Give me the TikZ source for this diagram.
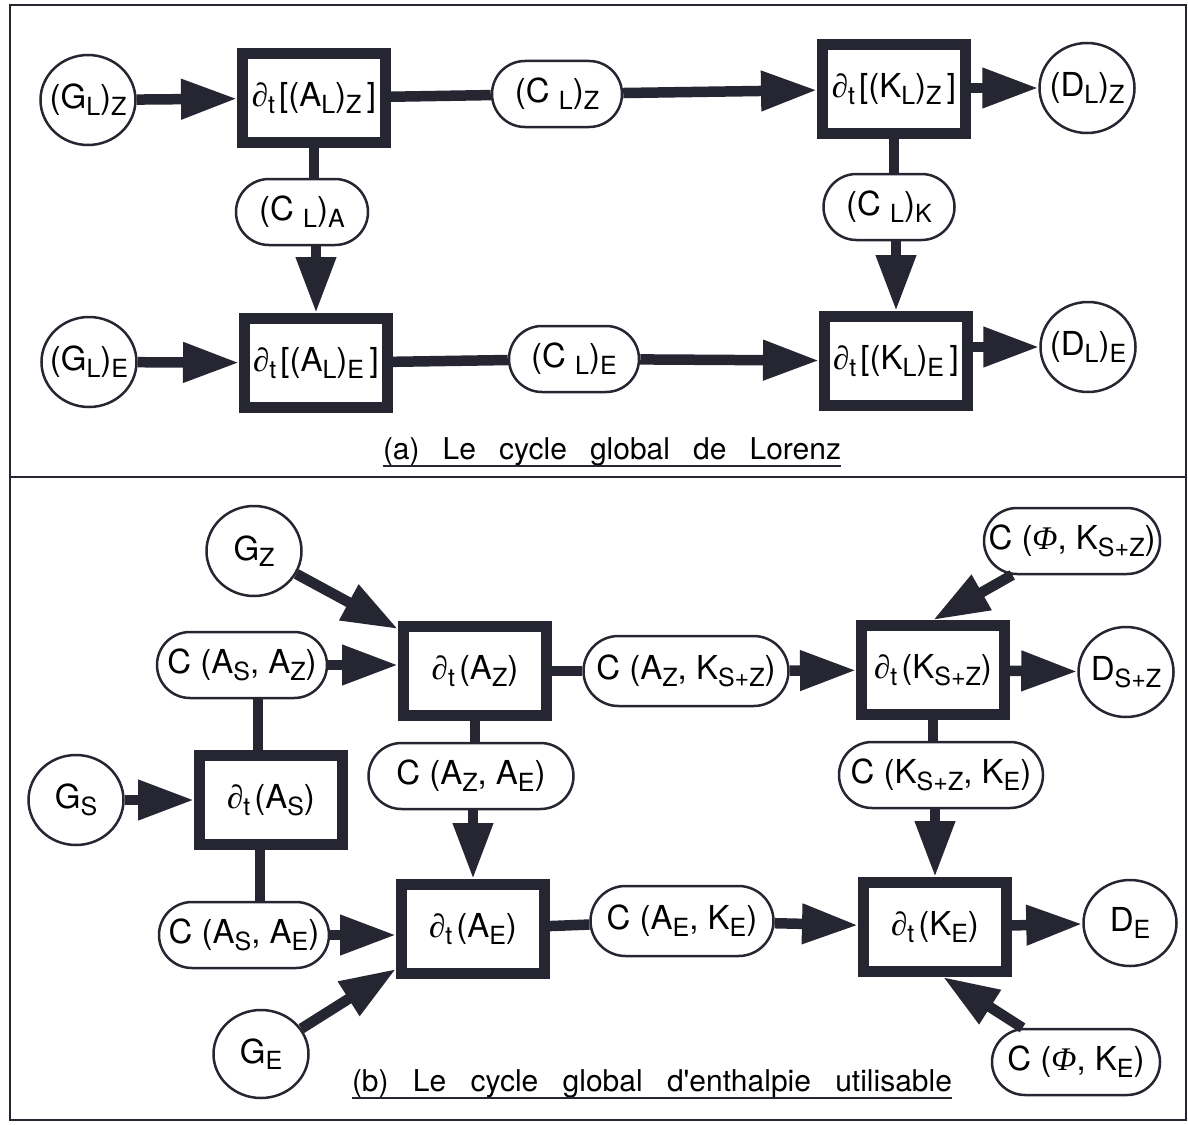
\documentclass[tikz,border=0pt]{standalone}
\usepackage{fontspec}
\setmainfont{TeX Gyre Heros}
\newfontfamily\symf{Liberation Serif}
\usetikzlibrary{arrows.meta,shapes.geometric,shapes.misc}
\definecolor{ink}{RGB}{38,38,50}
\newcommand\sbx[1]{\raisebox{-6.5pt}{\fontsize{25}{27}\selectfont #1}}
\newcommand\dtt{{\symf\itshape ∂}\sbx{t}}
\newcommand\phii{{\symf\itshape Φ}}
\newcommand\zb[1]{\makebox[0pt]{#1}}
\tikzset{
  boxn/.style={draw=ink, line width=11pt, minimum width=143pt, minimum height=89pt, inner sep=0pt, font=\fontsize{33}{36}\selectfont},
  pill/.style={draw=ink, line width=2.5pt, rounded rectangle, minimum height=66pt, inner sep=0pt, font=\fontsize{33}{36}\selectfont},
  circ/.style={draw=ink, line width=2.5pt, ellipse, inner sep=0pt, minimum width=95pt, minimum height=90pt, font=\fontsize{33}{36}\selectfont},
  lnk/.style={draw=ink, line width=10.5pt},
  arr/.style={lnk, -{Triangle[length=56pt,width=38pt]}},
  capt/.style={inner sep=0pt, anchor=base, font=\fontsize{30}{34}\selectfont},
}
\begin{document}
\begin{tikzpicture}[x=1pt,y=-1pt]
\useasboundingbox (0,0) rectangle (1188,1124);
\draw[ink, line width=2pt] (10,5) rectangle (1186,1120);
\draw[ink, line width=2pt] (10,477) -- (1186,477);

% panel (a)
\node[circ] (GLZ) at (88,100) {\zb{(G\sbx{L})\sbx{Z}}};
\node[boxn] (ALZ) at (314,98) {\dtt\hspace{4pt}[(A\sbx{L})\sbx{Z}\,]};
\node[pill, minimum width=130pt] (CLZ) at (557,94) {(C \sbx{L})\sbx{Z}};
\node[boxn] (KLZ) at (894,89) {\dtt\hspace{4pt}[(K\sbx{L})\sbx{Z}\,]};
\node[circ] (DLZ) at (1087,88) {\zb{(D\sbx{L})\sbx{Z}}};
\node[pill, minimum width=132pt] (CLA) at (302,212) {(C \sbx{L})\sbx{A}};
\node[pill, minimum width=131pt] (CLK) at (889,207) {(C \sbx{L})\sbx{K}};
\node[circ] (GLE) at (89,362) {\zb{(G\sbx{L})\sbx{E}}};
\node[boxn] (ALE) at (316,363) {\dtt\hspace{4pt}[(A\sbx{L})\sbx{E}\,]};
\node[pill, minimum width=130pt] (CLE) at (574,359) {(C \sbx{L})\sbx{E}};
\node[boxn] (KLE) at (896,361) {\dtt\hspace{4pt}[(K\sbx{L})\sbx{E}\,]};
\node[circ] (DLE) at (1088,347) {\zb{(D\sbx{L})\sbx{E}}};

\draw[arr] (GLZ) -- (ALZ);
\draw[lnk] (ALZ) -- (CLZ);
\draw[arr] (CLZ) -- (KLZ);
\draw[arr] (KLZ.east |- DLZ) -- (DLZ);
\draw[lnk] (ALZ.south) -- (ALZ.south |- CLA.north);
\draw[arr] (CLA.south -| ALE.north) -- (ALE.north);
\draw[lnk] (KLZ.south) -- (KLZ.south |- CLK.north);
\draw[arr] (CLK.south -| KLE.north) -- (KLE.north);
\draw[arr] (GLE) -- (ALE);
\draw[lnk] (ALE) -- (CLE);
\draw[arr] (CLE) -- (KLE);
\draw[arr] (KLE.east |- DLE) -- (DLE);

\node[capt] (capa) at (612,459) {\makebox[458pt][s]{(a) Le cycle global de Lorenz}};
\draw[ink, line width=2pt] ([yshift=-7pt]capa.base west) -- ([yshift=-7pt]capa.base east);

% panel (b)
\node[circ] (GZ) at (254,551) {\zb{G\sbx{Z}}};
\node[boxn] (AZ) at (475,671) {\dtt\hspace{4pt}(A\sbx{Z})};
\node[pill, minimum width=170pt] (CSZ) at (242,665) {C (A\sbx{S}, A\sbx{Z})};
\node[boxn] (AS) at (271,800) {\dtt\hspace{4pt}(A\sbx{S})};
\node[circ] (GS) at (76,800) {\zb{G\sbx{S}}};
\node[pill, minimum width=170pt] (CSE) at (244,935) {C (A\sbx{S}, A\sbx{E})};
\node[boxn] (AE) at (473,929) {\dtt\hspace{4pt}(A\sbx{E})};
\node[pill, minimum width=205pt] (CZE) at (471,776) {C (A\sbx{Z}, A\sbx{E})};
\node[circ, minimum height=88pt] (GE) at (261,1054) {\zb{G\sbx{E}}};
\node[pill, minimum width=205pt, minimum height=70pt] (CZK) at (686,671) {C (A\sbx{Z}, K\sbx{S+Z})};
\node[boxn] (KSZ) at (933,670) {\dtt\hspace{4pt}(K\sbx{S+Z})};
\node[pill, minimum width=176pt] (CPK) at (1072,541) {C (\phii, K\sbx{S+Z})};
\node[circ] (DSZ) at (1126,672) {\zb{D\sbx{S+Z}}};
\node[pill, minimum width=204pt] (CKK) at (941,775) {C (K\sbx{S+Z}, K\sbx{E})};
\node[boxn] (KE) at (935,927) {\dtt\hspace{4pt}(K\sbx{E})};
\node[pill, minimum width=183pt, minimum height=70pt] (CEK) at (682,921) {C (A\sbx{E}, K\sbx{E})};
\node[circ, minimum width=93pt, minimum height=86pt] (DE) at (1130,923) {\zb{D\sbx{E}}};
\node[pill, minimum width=168pt] (CPE) at (1076,1062) {C (\phii, K\sbx{E})};

\draw[arr] (GZ) -- ([yshift=-8pt]AZ.north west);
\draw[arr] (CSZ.east) -- (CSZ.east -| AZ.west);
\draw[lnk] ([xshift=16pt]CSZ.south) -- ([xshift=16pt]CSZ.south |- AS.north);
\draw[arr] (GS) -- (AS);
\draw[lnk] ([xshift=-11pt]AS.south) -- ([xshift=-11pt]AS.south |- CSE.north);
\draw[arr] (CSE.east) -- (CSE.east -| AE.west);
\draw[lnk] (AZ.south) -- (AZ.south |- CZE.north);
\draw[arr] (CZE.south -| AE.north) -- (AE.north);
\draw[arr] (GE) -- ([yshift=10pt]AE.south west);
\draw[lnk] (AZ) -- (CZK);
\draw[arr] (CZK) -- (KSZ);
\draw[arr] (CPK) -- (KSZ.north);
\draw[arr] (KSZ) -- (DSZ);
\draw[lnk] (KSZ.south) -- (KSZ.south |- CKK.north);
\draw[arr] (CKK.south -| KE.north) -- (KE.north);
\draw[lnk] (AE) -- (CEK);
\draw[arr] (CEK) -- (KE);
\draw[arr] (KE) -- (DE);
\draw[arr] (CPE) -- ([xshift=8pt]KE.south);

\node[capt] (capb) at (652,1091) {\makebox[600pt][s]{(b) Le cycle global d\textquotesingle enthalpie utilisable}};
\draw[ink, line width=2pt] ([yshift=-7pt]capb.base west) -- ([yshift=-7pt]capb.base east);
\end{tikzpicture}
\end{document}
